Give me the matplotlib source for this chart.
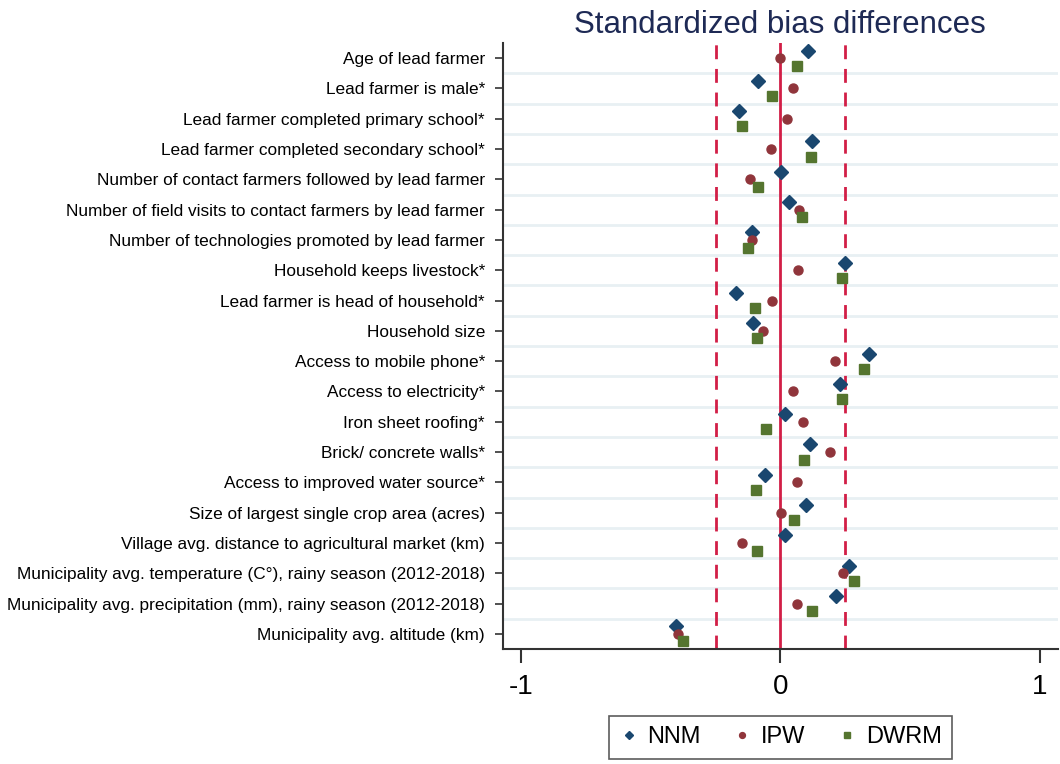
import numpy as np
import matplotlib.pyplot as plt

plt.rcParams['font.family'] = ['Liberation Sans', 'DejaVu Sans']

# Covariates, top to bottom
labels = [
    "Age of lead farmer",
    "Lead farmer is male*",
    "Lead farmer completed primary school*",
    "Lead farmer completed secondary school*",
    "Number of contact farmers followed by lead farmer",
    "Number of field visits to contact farmers by lead farmer",
    "Number of technologies promoted by lead farmer",
    "Household keeps livestock*",
    "Lead farmer is head of household*",
    "Household size",
    "Access to mobile phone*",
    "Access to electricity*",
    "Iron sheet roofing*",
    "Brick/ concrete walls*",
    "Access to improved water source*",
    "Size of largest single crop area (acres)",
    "Village avg. distance to agricultural market (km)",
    "Municipality avg. temperature (C\u00b0), rainy season (2012-2018)",
    "Municipality avg. precipitation (mm), rainy season (2012-2018)",
    "Municipality avg. altitude (km)",
]

# Standardized bias differences per method
nnm = [0.105, -0.087, -0.160, 0.120, 0.004, 0.033, -0.109, 0.249, -0.172, -0.104,
       0.342, 0.230, 0.018, 0.114, -0.058, 0.097, 0.019, 0.265, 0.215, -0.401]
ipw = [0.000, 0.047, 0.027, -0.036, -0.117, 0.072, -0.108, 0.068, -0.033, -0.068,
       0.212, 0.047, 0.086, 0.192, 0.065, 0.003, -0.147, 0.241, 0.064, -0.395]
dwrm = [0.063, -0.033, -0.147, 0.119, -0.085, 0.083, -0.126, 0.236, -0.097, -0.091,
        0.324, 0.236, -0.054, 0.092, -0.094, 0.051, -0.090, 0.282, 0.123, -0.376]

threshold = 0.25

fig = plt.figure(figsize=(10.6, 7.64), dpi=100)
ax = fig.add_axes([0.4745, 0.1505, 0.5235, 0.7932])

pos = np.arange(len(labels))

ax.axvline(0, color='#d21e46', lw=2, zorder=1)
for t in (-threshold, threshold):
    ax.axvline(t, color='#d21e46', lw=2, ls=(0, (5, 3.5)), zorder=1)

ax.plot(nnm, pos - 0.25, 'D', color='#1a476f', ms=7, ls='none', label='NNM', zorder=3)
ax.plot(ipw, pos, 'o', color='#90353b', ms=6.5, ls='none', label='IPW', zorder=3)
ax.plot(dwrm, pos + 0.25, 's', color='#55752f', ms=6.5, ls='none', label='DWRM', zorder=3)

ax.set_xlim(-1.07, 1.07)
ax.set_ylim(len(labels) - 0.5, -0.5)
ax.set_xticks([-1, 0, 1])
ax.set_xticklabels(['-1', '0', '1'], fontsize=20)
ax.set_yticks(pos)
ax.set_yticklabels(labels, fontsize=12.4)
ax.set_yticks(pos[:-1] + 0.5, minor=True)
ax.tick_params(axis='y', which='minor', length=0)
ax.tick_params(axis='y', which='major', length=6, width=1.2, color='#333333', pad=7)
ax.tick_params(axis='x', length=10, width=1.5, color='#333333', pad=8)
ax.grid(axis='y', which='minor', color='#e8f0f3', lw=2)
ax.set_axisbelow(True)

for side in ('top', 'right'):
    ax.spines[side].set_visible(False)
for side in ('left', 'bottom'):
    ax.spines[side].set_color('#333333')
    ax.spines[side].set_linewidth(1.5)

fig.text(0.7358, 0.957, 'Standardized bias differences', ha='center', va='baseline',
         fontsize=22.5, color='#1e2a55')

leg = fig.legend(loc='center', bbox_to_anchor=(0.7363, 0.0347), ncol=3, fontsize=17,
                 frameon=True, fancybox=False, edgecolor='#333333', markerscale=0.65,
                 handlelength=0.8, handletextpad=0.4, columnspacing=1.35,
                 borderpad=0.45)
leg.get_frame().set_linewidth(1.2)

plt.savefig('out.png', dpi=100)
